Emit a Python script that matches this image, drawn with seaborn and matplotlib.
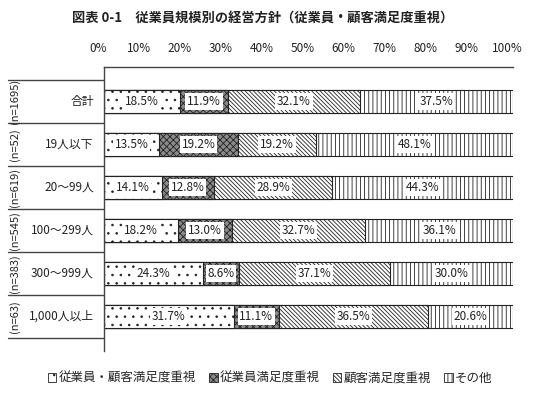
import numpy as np
import pandas as pd
import matplotlib
matplotlib.use('Agg')
import matplotlib.pyplot as plt
import matplotlib.transforms as mtransforms
from matplotlib.patches import Patch
import seaborn as sns

# data
categories = ['合計', '19人以下', '20～99人', '100～299人', '300～999人', '1,000人以上']
n_labels = ['(n=1695)', '(n=52)', '(n=619)', '(n=545)', '(n=383)', '(n=63)']
series_names = ['従業員・顧客満足度重視', '従業員満足度重視', '顧客満足度重視', 'その他']
both = [18.5, 13.5, 14.1, 18.2, 24.3, 31.7]
employee = [11.9, 19.2, 12.8, 13.0, 8.6, 11.1]
customer = [32.1, 19.2, 28.9, 32.7, 37.1, 36.5]
other = [37.5, 48.1, 44.3, 36.1, 30.0, 20.6]

sns.set_theme(style='white')
plt.rcParams['font.family'] = ['Noto Sans CJK JP', 'DejaVu Sans']
plt.rcParams['hatch.linewidth'] = 0.6

df = pd.DataFrame({'category': categories, 's1': both, 's2': employee,
                   's3': customer, 's4': other})
cols = ['s1', 's2', 's3', 's4']
cum = df[cols].cumsum(axis=1)
for c in cols:
    df['cum_' + c] = cum[c]

styles = {
    's1': dict(face='white', hatch='..'),
    's2': dict(face='#8a8a8a', hatch='xxxxx'),
    's3': dict(face='white', hatch='\\' * 8),
    's4': dict(face='white', hatch='||||'),
}

fig = plt.figure(figsize=(5.35, 3.97), dpi=100)
ax = fig.add_axes([104 / 535, 1 - 351 / 397, 409 / 535, 284 / 397])

# overlapping cumulative bars, drawn from the longest down
for c in reversed(cols):
    before = len(ax.patches)
    sns.barplot(data=df, y='category', x='cum_' + c, orient='h', color='white',
                width=0.55, ax=ax)
    for p in ax.patches[before:]:
        p.set_facecolor(styles[c]['face'])
        p.set_hatch(styles[c]['hatch'])
        p.set_edgecolor('#222222')
        p.set_linewidth(0.8)

# value labels
for i in range(len(categories)):
    left = 0
    for c in cols:
        v = df.loc[i, c]
        ax.text(left + v / 2, i, f'{v:.1f}%', ha='center', va='center', fontsize=8.5,
                color='#222222',
                bbox=dict(facecolor='white', edgecolor='none', pad=1.2))
        left += v

ax.set_xlim(0, 100)
ax.set_xlabel('')
ax.set_ylabel('')
ax.xaxis.tick_top()
ax.set_xticks(range(0, 101, 10))
ax.set_xticklabels([f'{t}%' for t in range(0, 101, 10)], fontsize=8.5, color='#222222')
ax.tick_params(axis='x', length=0, pad=9)
shift = mtransforms.ScaledTranslation(-6 / 100, 0, fig.dpi_scale_trans)
for lab in ax.get_xticklabels():
    lab.set_transform(lab.get_transform() + shift)
ax.set_yticks([])
for s in ['right', 'bottom']:
    ax.spines[s].set_visible(False)
for s in ['left', 'top']:
    ax.spines[s].set_color('#444444')
    ax.spines[s].set_linewidth(1.0)

# table lines and labels on the left
trans = ax.get_yaxis_transform()
x0 = (8 - 104) / 409
for k in range(len(categories) + 1):
    ax.plot([x0, 0], [k - 0.5, k - 0.5], transform=trans, color='#444444',
            lw=1.0, clip_on=False)
for i, (cat, n) in enumerate(zip(categories, n_labels)):
    ax.text(-0.025, i, cat, transform=trans, ha='right', va='center', fontsize=8.5,
            color='#222222')
    ax.text((15 - 104) / 409, i, n, transform=trans, ha='center', va='center',
            rotation=90, fontsize=8, color='#222222')

fig.text(0.49, 1 - 18 / 397, '図表 0-1　従業員規模別の経営方針（従業員・顧客満足度重視）',
         ha='center', va='center', fontsize=9.5, fontweight='bold', color='#222222')

handles = [Patch(facecolor=styles[c]['face'], hatch=styles[c]['hatch'],
                 edgecolor='#222222', linewidth=0.6) for c in cols]
fig.legend(handles, series_names, loc='center', bbox_to_anchor=(0.505, 1 - 378 / 397),
           ncol=4, frameon=False, fontsize=9, handlelength=0.7, handleheight=0.7,
           handletextpad=0.2, columnspacing=1.0)

fig.savefig('out.png', dpi=100)
